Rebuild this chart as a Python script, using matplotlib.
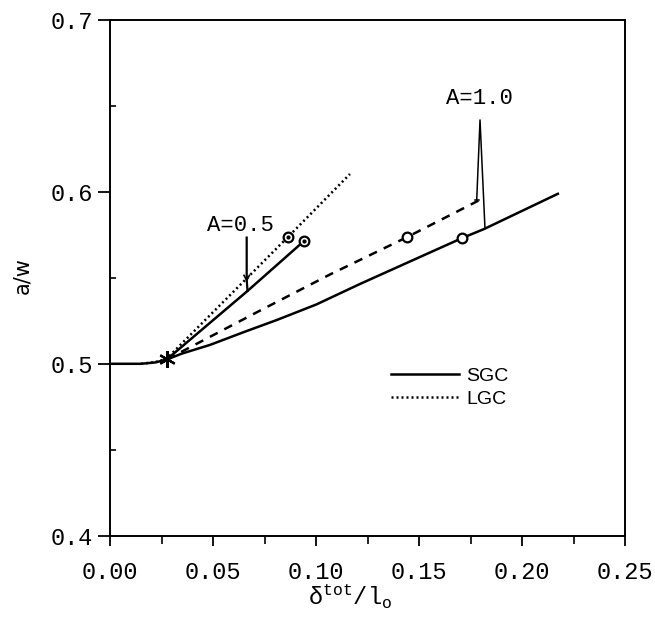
import matplotlib.pyplot as plt
from matplotlib.lines import Line2D

plt.rcParams['mathtext.fontset'] = 'custom'
plt.rcParams['mathtext.rm'] = 'Liberation Mono'
plt.rcParams['mathtext.it'] = 'Liberation Mono'

# A=1.0, SGC (lower solid curve, includes the initial flat part)
sgc10_x = [0.0, 0.015, 0.022, 0.0275, 0.035, 0.0485, 0.065, 0.0809, 0.100, 0.1213, 0.150, 0.1706, 0.1815, 0.2178]
sgc10_y = [0.500, 0.500, 0.5008, 0.5025, 0.506, 0.511, 0.5185, 0.5255, 0.5345, 0.5465, 0.562, 0.5731, 0.5785, 0.5993]

# A=1.0, dashed curve
dash10_x = [0.0275, 0.0728, 0.1067, 0.144, 0.1787]
dash10_y = [0.5025, 0.531, 0.552, 0.5737, 0.595]

# A=0.5, SGC (upper solid line)
sgc05_x = [0.0275, 0.0663, 0.0943]
sgc05_y = [0.5025, 0.542, 0.5717]

# A=0.5, LGC (dotted line)
lgc05_x = [0.015, 0.022, 0.0275, 0.0862, 0.1164]
lgc05_y = [0.500, 0.501, 0.503, 0.5737, 0.6105]

# initiation point and circled points
star_x, star_y = [0.0275], [0.5025]
circ_x = [0.0943, 0.0862, 0.144, 0.1706]
circ_y = [0.5717, 0.5737, 0.5737, 0.5731]
dot_x = [0.0943, 0.0862]
dot_y = [0.5717, 0.5737]

legend_labels = ['SGC', 'LGC']

fig = plt.figure(figsize=(6.55, 6.36), dpi=100)
ax = fig.add_axes([0.168, 0.158, 0.7867, 0.810])

lw = 1.8
ax.plot(sgc10_x, sgc10_y, color='black', lw=lw, solid_capstyle='butt')
ax.plot(dash10_x, dash10_y, color='black', lw=lw, linestyle=(0, (3.5, 3.0)))
ax.plot(sgc05_x, sgc05_y, color='black', lw=lw)
ax.plot(lgc05_x, lgc05_y, color='black', lw=lw, linestyle=(0, (0.8, 1.2)))

ax.plot(star_x, star_y, linestyle='none', marker=(6, 2, 0), ms=12, mew=1.6, color='black', zorder=5)
ax.plot(circ_x, circ_y, linestyle='none', marker='o', ms=7, mfc='white', mec='black', mew=1.6, zorder=5)
ax.plot(dot_x, dot_y, linestyle='none', marker='o', ms=2, color='black', zorder=6)

# annotations
mono = 'Liberation Mono'
ax.text(0.0631, 0.5808, 'A=0.5', family=mono, fontsize=16, ha='center', va='center')
ax.plot([0.0663, 0.0663, 0.0667], [0.5735, 0.5488, 0.5425], color='black', lw=1.6)
ax.plot([0.0650, 0.0663, 0.0676], [0.5515, 0.5485, 0.5515], color='black', lw=1.2)

ax.text(0.179, 0.6542, 'A=1.0', family=mono, fontsize=16, ha='center', va='center')
ax.plot([0.1779, 0.1795, 0.1819], [0.5954, 0.642, 0.5790], color='black', lw=1.1)
ax.plot([0.1770, 0.1790], [0.5954, 0.5954], color='black', lw=1.1)

handles = [Line2D([], [], color='black', lw=lw),
           Line2D([], [], color='black', lw=lw, linestyle=(0, (0.8, 1.2)))]
ax.legend(handles, legend_labels, loc='upper left', bbox_to_anchor=(0.5446, 0.327),
          frameon=False, borderpad=0, borderaxespad=0, handlelength=3.5,
          handletextpad=0.4, labelspacing=0.3,
          prop={'family': 'Liberation Sans', 'size': 14})

ax.set_xlim(0, 0.25)
ax.set_ylim(0.4, 0.7)
ax.set_xticks([0.0, 0.05, 0.10, 0.15, 0.20, 0.25])
ax.set_xticklabels(['0.00', '0.05', '0.10', '0.15', '0.20', '0.25'])
ax.set_xticks([0.025, 0.075, 0.125, 0.175, 0.225], minor=True)
ax.set_yticks([0.4, 0.5, 0.6, 0.7])
ax.set_yticklabels(['0.4', '0.5', '0.6', '0.7'])
ax.set_yticks([0.45, 0.55, 0.65], minor=True)

for lab in ax.get_xticklabels() + ax.get_yticklabels():
    lab.set_family(mono)
    lab.set_fontsize(17)

ax.tick_params(axis='x', which='major', direction='out', length=7, width=1.3, pad=11)
ax.tick_params(axis='x', which='minor', direction='out', length=6, width=1.2)
ax.tick_params(axis='y', which='major', direction='out', length=9, width=1.3, pad=3)
ax.tick_params(axis='y', which='minor', direction='in', length=4, width=1.2)
for sp in ax.spines.values():
    sp.set_linewidth(1.4)

ax.set_xlabel(r'$\mathrm{δ^{tot}/l_{o}}$', fontsize=17)
ax.xaxis.set_label_coords(0.466, -0.092)
ax.set_ylabel('a/w', family='DejaVu Sans', fontsize=15)
ax.yaxis.set_label_coords(-0.151, 0.504)

fig.savefig('out.png', dpi=100)
